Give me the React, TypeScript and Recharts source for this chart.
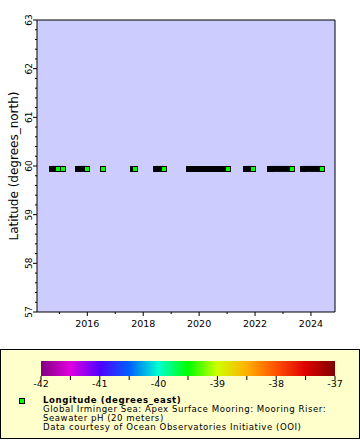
import React from "react";
import {
  ComposedChart,
  Scatter,
  XAxis,
  YAxis,
  CartesianGrid,
  ReferenceLine,
  ReferenceArea,
} from "recharts";

// deployments seen at the mooring (decimal years)
const deployStart = [2014.74, 2015.67, 2016.55, 2017.65, 2018.45, 2019.64, 2021.68, 2022.54, 2023.7];
const deployEnd = [2015.13, 2016.0, 2016.55, 2017.7, 2018.74, 2021.03, 2021.93, 2023.33, 2024.4];
// samples that are still visible as green squares
const greenYears = [2014.95, 2015.13, 2016.0, 2016.55, 2017.7, 2018.74, 2021.03, 2021.93, 2023.33, 2024.4];
const latitude = 59.94;

const xDomain = [2014.2, 2024.86];
const yearTicks = [2015, 2016, 2017, 2018, 2019, 2020, 2021, 2022, 2023, 2024];
const latTicks = [
  57, 57.2, 57.4, 57.6, 57.8, 58, 58.2, 58.4, 58.6, 58.8, 59, 59.2, 59.4, 59.6, 59.8,
  60, 60.2, 60.4, 60.6, 60.8, 61, 61.2, 61.4, 61.6, 61.8, 62, 62.2, 62.4, 62.6, 62.8, 63,
];

// colour bar (longitude, degrees_east)
const cbTicks = [-42, -41.5, -41, -40.5, -40, -39.5, -39, -38.5, -38, -37.5, -37];
const cbColors = [
  "#800080", "#e000e0", "#5000ff", "#0060ff", "#00ffd0", "#00ff00",
  "#d0ff00", "#ffb000", "#ff5000", "#e00000", "#800000",
];

const legendLines = [
  "Global Irminger Sea: Apex Surface Mooring: Mooring Riser:",
  "Seawater pH (20 meters)",
  "Data courtesy of Ocean Observatories Initiative (OOI)",
];

const FONT = "DejaVu Sans";
const isWhole = (v: number) => Math.abs(v - Math.round(v)) < 1e-6;

function YTick(props: any) {
  const { x, y, payload } = props;
  const v = payload.value;
  const major = isWhole(v);
  return (
    <g>
      <line x1={x} x2={x - (major ? 4 : 2)} y1={y} y2={y} stroke="#000" />
      {major && (
        <text
          x={x - 5}
          y={y}
          transform={`rotate(-90 ${x - 5} ${y})`}
          textAnchor="middle"
          fontSize={9}
          fontFamily={FONT}
          fill="#000"
        >
          {v}
        </text>
      )}
    </g>
  );
}

function XTick(props: any) {
  const { x, y, payload } = props;
  const v = payload.value;
  const major = v % 2 === 0;
  return (
    <g>
      <line x1={x} x2={x} y1={y} y2={y + (major ? 4 : 2)} stroke="#000" />
      {major && (
        <text x={x} y={y + 15} textAnchor="middle" fontSize={9.5} fontFamily={FONT} fill="#000">
          {v}
        </text>
      )}
    </g>
  );
}

function CbTick(props: any) {
  const { x, y, payload } = props;
  const v = payload.value;
  return (
    <g>
      <line x1={x} x2={x} y1={y} y2={y + 4} stroke="#000" />
      {isWhole(v) && (
        <text x={x} y={y + 11} textAnchor="middle" fontSize={9.5} fontFamily={FONT} fill="#000">
          {v}
        </text>
      )}
    </g>
  );
}

function Square(props: any) {
  const { cx, cy, color } = props;
  if (cx == null || cy == null) return null;
  const x = Math.round(cx) - 2.5;
  const y = Math.round(cy) - 2.5;
  return <rect x={x} y={y} width={5} height={5} fill={color} stroke="#000" strokeWidth={1} />;
}

function YLabel(props: any) {
  const { viewBox } = props;
  const cx = viewBox.x + 18;
  const cy = viewBox.y + viewBox.height / 2;
  return (
    <text
      x={cx}
      y={cy}
      transform={`rotate(-90 ${cx} ${cy})`}
      textAnchor="middle"
      fontSize={12}
      fontFamily={FONT}
      fill="#000"
    >
      Latitude (degrees_north)
    </text>
  );
}

export default function App() {
  const segments = deployStart.map((s, i) => [
    { year: s, lat: latitude },
    { year: deployEnd[i], lat: latitude },
  ]);
  const greens = greenYears.map((g) => ({ year: g, lat: latitude }));
  const cbData = cbTicks.map((t) => ({ lon: t, v: 0.5 }));

  return (
    <div
      style={{
        position: "absolute",
        left: 0,
        top: 0,
        width: 360,
        height: 440,
        background: "#fff",
        fontFamily: FONT,
      }}
    >
      <ComposedChart width={360} height={345} margin={{ top: 20, right: 25, bottom: 8, left: 0 }}>
        <CartesianGrid fill="#ccccff" fillOpacity={1} horizontal={false} vertical={false} />
        <XAxis
          type="number"
          dataKey="year"
          domain={xDomain}
          allowDataOverflow
          ticks={yearTicks}
          interval={0}
          tick={<XTick />}
          tickSize={0}
          tickMargin={0}
          tickLine={false}
          axisLine={{ stroke: "#000" }}
          height={25}
        />
        <YAxis
          type="number"
          dataKey="lat"
          domain={[57, 63]}
          allowDataOverflow
          ticks={latTicks}
          interval={0}
          tick={<YTick />}
          tickSize={0}
          tickMargin={0}
          tickLine={false}
          axisLine={{ stroke: "#000" }}
          width={37}
          label={<YLabel />}
        />
        <ReferenceLine y={63} stroke="#000" />
        <ReferenceLine x={xDomain[1]} stroke="#000" />
        {segments.map((seg, i) => (
          <Scatter
            key={i}
            data={seg}
            line={{ stroke: "#000", strokeWidth: 6 }}
            lineType="joint"
            shape={<Square color="#000" />}
            isAnimationActive={false}
          />
        ))}
        <Scatter data={greens} shape={<Square color="#00ff00" />} isAnimationActive={false} />
      </ComposedChart>

      <div
        style={{
          position: "absolute",
          left: 0,
          top: 349,
          width: 360,
          height: 90,
          boxSizing: "border-box",
          border: "1px solid #000",
          background: "#ffffcc",
        }}
      />
      <div style={{ position: "absolute", left: 0, top: 349 }}>
        <ComposedChart width={360} height={45} data={cbData} margin={{ top: 12, right: 25, bottom: 2, left: 41 }}>
          <defs>
            <linearGradient id="cbGrad" x1="0" y1="0" x2="1" y2="0">
              {cbColors.map((c, i) => (
                <stop key={i} offset={`${(i / (cbColors.length - 1)) * 100}%`} stopColor={c} />
              ))}
            </linearGradient>
          </defs>
          <XAxis
            type="number"
            dataKey="lon"
            domain={[cbTicks[0], cbTicks[cbTicks.length - 1]]}
            ticks={cbTicks}
            interval={0}
            tick={<CbTick />}
            tickSize={0}
            tickMargin={0}
            tickLine={false}
            axisLine={false}
            height={16}
          />
          <YAxis type="number" dataKey="v" domain={[0, 1]} hide />
          <ReferenceArea
            x1={cbTicks[0]}
            x2={cbTicks[cbTicks.length - 1]}
            y1={0}
            y2={1}
            fill="url(#cbGrad)"
            fillOpacity={1}
            stroke="none"
          />
          <Scatter dataKey="v" shape={() => <g />} isAnimationActive={false} />
        </ComposedChart>
      </div>
      <svg style={{ position: "absolute", left: 0, top: 0 }} width={360} height={440}>
        <rect x={19.5} y={398.5} width={5} height={5} fill="#00ff00" stroke="#000" />
        <text x={43} y={402.5} fontSize={8.6} fontWeight="bold" letterSpacing={0.6} fontFamily={FONT} fill="#000">
          Longitude (degrees_east)
        </text>
        {legendLines.map((t, i) => (
          <text
            key={i}
            x={43}
            y={411.7 + i * 9.2}
            fontSize={8.6}
            letterSpacing={0.53}
            fontFamily={FONT}
            fill="#000"
          >
            {t}
          </text>
        ))}
      </svg>
    </div>
  );
}
